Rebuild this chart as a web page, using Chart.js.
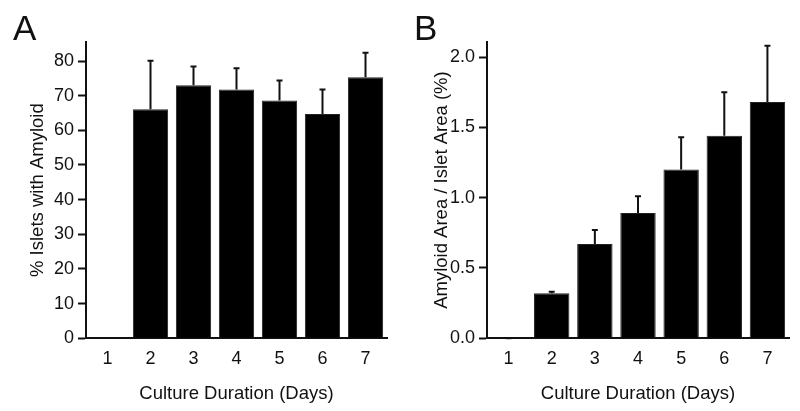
<!DOCTYPE html>
<html>
<head>
<meta charset="utf-8">
<script src="https://cdn.jsdelivr.net/npm/chart.js@4/dist/chart.umd.min.js"></script>
<style>
  body { margin: 0; background: #fff; }
  .panel { position: absolute; top: 0; width: 400px; height: 411px; }
  .letter { position: absolute; top: 7px; font: 35px "Liberation Sans", Arial, sans-serif; color: #111; line-height: 1.2; }
</style>
</head>
<body>
<div class="panel" style="left:0"><canvas id="chartA"></canvas></div>
<div class="panel" style="left:400px"><canvas id="chartB"></canvas></div>
<div class="letter" style="left:13px">A</div>
<div class="letter" style="left:414px">B</div>
<script>
// culture days
var days = ['1', '2', '3', '4', '5', '6', '7'];

// panel A: % islets with amyloid, mean and upper error
var isletsWithAmyloid = [0, 66.1, 73.0, 71.8, 68.6, 64.7, 75.3];
var isletsErr = [null, 14.0, 5.4, 6.1, 5.8, 7.1, 7.1];

// panel B: amyloid area / islet area (%), mean and upper error
var amyloidArea = [0, 0.32, 0.67, 0.89, 1.20, 1.44, 1.68];
var amyloidErr = [0, 0.01, 0.10, 0.12, 0.23, 0.31, 0.40];

var FONT = '"Liberation Sans", Arial, sans-serif';
var INK = '#111';

// draws the upper half of the error bars with a small cap
var errorBars = {
    id: 'errorBars',
    afterDatasetsDraw: function (chart, args, opts) {
        var ctx = chart.ctx;
        var yScale = chart.scales.y;
        var meta = chart.getDatasetMeta(0);
        var vals = chart.data.datasets[0].data;
        ctx.save();
        ctx.strokeStyle = INK;
        ctx.lineWidth = 2;
        meta.data.forEach(function (bar, i) {
            var e = opts.values[i];
            if (e === null || e === undefined) return;
            var top = yScale.getPixelForValue(vals[i] + e);
            ctx.beginPath();
            ctx.moveTo(bar.x, bar.y);
            ctx.lineTo(bar.x, top);
            ctx.moveTo(bar.x - 3, top);
            ctx.lineTo(bar.x + 3, top);
            ctx.stroke();
        });
        ctx.restore();
    }
};

function makeChart(id, values, errs, yTitle, yMax, step, decimals, axisWidth, titlePad, padRight) {
    var ctx = document.getElementById(id).getContext('2d');
    return new Chart(ctx, {
        type: 'bar',
        data: {
            labels: days,
            datasets: [{
                data: values,
                backgroundColor: '#000',
                borderColor: '#222',
                borderWidth: 1,
                barPercentage: 0.82,
                categoryPercentage: 1
            }]
        },
        options: {
            responsive: true,
            maintainAspectRatio: false,
            animation: false,
            layout: { padding: { left: 0, right: padRight, top: 42, bottom: 6 } },
            plugins: {
                legend: { display: false },
                tooltip: { enabled: false },
                errorBars: { values: errs }
            },
            scales: {
                x: {
                    grid: { display: false, drawTicks: false },
                    border: { display: true, color: INK, width: 2 },
                    ticks: { color: INK, font: { family: FONT, size: 18 }, padding: 10 },
                    title: {
                        display: true,
                        text: 'Culture Duration (Days)',
                        color: INK,
                        font: { family: FONT, size: 18.5 },
                        padding: { top: 3, bottom: 0 }
                    }
                },
                y: {
                    min: 0,
                    max: yMax,
                    afterFit: function (scale) { scale.width = axisWidth; },
                    grid: {
                        display: true,
                        drawOnChartArea: false,
                        drawTicks: true,
                        tickLength: 8,
                        tickWidth: 2,
                        tickColor: INK
                    },
                    border: { display: true, color: INK, width: 2 },
                    ticks: {
                        stepSize: step,
                        includeBounds: false,
                        color: INK,
                        padding: 4,
                        font: { family: FONT, size: 18 },
                        callback: function (v) { return v.toFixed(decimals); }
                    },
                    title: {
                        display: true,
                        text: yTitle,
                        color: INK,
                        font: { family: FONT, size: 18.5 },
                        padding: { top: titlePad, bottom: 0 }
                    }
                }
            }
        },
        plugins: [errorBars]
    });
}

makeChart('chartA', isletsWithAmyloid, isletsErr, '% Islets with Amyloid', 85.5, 10, 0, 86, 27, 13);
makeChart('chartB', amyloidArea, amyloidErr, 'Amyloid Area / Islet Area (%)', 2.107, 0.5, 1, 87, 31, 11);
</script>
</body>
</html>
